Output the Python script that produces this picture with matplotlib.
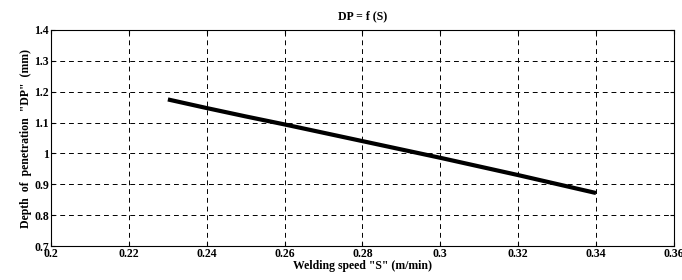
import matplotlib
matplotlib.use("Agg")
import matplotlib.pyplot as plt

# welding speed (m/min) vs depth of penetration (mm)
speed = [0.23, 0.24, 0.25, 0.26, 0.27, 0.28, 0.29, 0.30, 0.31, 0.32, 0.33, 0.34]
depth = [1.175, 1.147, 1.120, 1.094, 1.067, 1.040, 1.013, 0.986, 0.958, 0.930, 0.901, 0.872]

xticks = [0.2, 0.22, 0.24, 0.26, 0.28, 0.3, 0.32, 0.34, 0.36]
xlabels = ["0.2", "0.22", "0.24", "0.26", "0.28", "0.3", "0.32", "0.34", "0.36"]
yticks = [0.7, 0.8, 0.9, 1.0, 1.1, 1.2, 1.3, 1.4]
ylabels = ["0.7", "0.8", "0.9", "1", "1.1", "1.2", "1.3", "1.4"]

plt.rcParams["font.family"] = ["Liberation Serif", "DejaVu Serif"]
plt.rcParams["font.weight"] = "bold"

fig = plt.figure(figsize=(6.82, 2.80), dpi=100)
ax = fig.add_axes([0.075, 0.121, 0.913, 0.772])

ax.plot(speed, depth, color="black", linewidth=3.0, solid_capstyle="butt")

ax.set_xlim(0.2, 0.36)
ax.set_ylim(0.7, 1.4)
ax.set_xticks(xticks)
ax.set_xticklabels(xlabels, fontweight="bold")
ax.set_yticks(yticks)
ax.set_yticklabels(ylabels, fontweight="bold")
ax.tick_params(direction="in", length=3, labelsize=8.5, top=True, right=True, pad=1.5)
ax.grid(True, color="black", linestyle=(0, (5, 4)), linewidth=0.7)
for s in ax.spines.values():
    s.set_linewidth(0.8)

ax.set_title("DP = f (S)", fontsize=8.5, fontweight="bold", pad=8)
ax.set_xlabel('Welding speed "S" (m/min)', fontsize=8.5, fontweight="bold", labelpad=0)
ax.set_ylabel('Depth  of  penetration  "DP"  (mm)', fontsize=8.5, fontweight="bold", labelpad=2)

fig.savefig("out.png", dpi=100)
